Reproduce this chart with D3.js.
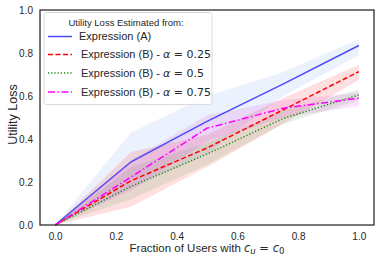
<!DOCTYPE html>
<html>
<head>
<meta charset="utf-8">
<script src="https://cdn.jsdelivr.net/npm/d3@7"></script>
<style>
  body { margin: 0; background: #fff; }
  text { font-family: "Liberation Sans", Arial, sans-serif; fill: #262626; }
</style>
</head>
<body>
<div id="container"></div>
<script>
/* DATA */
const fractions = [0, 0.25, 0.5, 0.75, 1.0];
const meanA   = [0, 0.294, 0.482, 0.655, 0.835];
const meanB25 = [0, 0.206, 0.358, 0.535, 0.713];
const meanB50 = [0, 0.18, 0.33, 0.495, 0.605];
const meanB75 = [0, 0.223, 0.45, 0.543, 0.59];
const lowA   = [0, 0.17, 0.33, 0.6, 0.79];
const highA  = [0, 0.43, 0.6, 0.71, 0.865];
const lowB25 = [0, 0.085, 0.27, 0.47, 0.675];
const highB25= [0, 0.34, 0.42, 0.59, 0.745];
const lowB50 = [0, 0.12, 0.28, 0.47, 0.58];
const highB50= [0, 0.27, 0.38, 0.53, 0.63];
const lowB75 = [0, 0.16, 0.39, 0.5, 0.553];
const highB75= [0, 0.3, 0.51, 0.58, 0.615];
const yTicks = [0.0, 0.2, 0.4, 0.6, 0.8, 1.0];
const xTicks = [0.0, 0.2, 0.4, 0.6, 0.8, 1.0];

/* CONSTANTS */
const width = 380, height = 264;
const margin = { top: 10, right: 6, bottom: 39, left: 40 };

const series = [
  { mean: meanA,   low: lowA,   high: highA,   color: "#4b4bf5", band: "#6495ed", bandOp: 0.13, dash: null, label: "Expression (A)", alpha: null },
  { mean: meanB25, low: lowB25, high: highB25, color: "#ff0000", band: "#ff0000", bandOp: 0.12, dash: "5,2.5", label: "Expression (B) - ", alpha: "0.25" },
  { mean: meanB50, low: lowB50, high: highB50, color: "#1a8a1a", band: "#2e8b2e", bandOp: 0.12, dash: "1.2,2", label: "Expression (B) - ", alpha: "0.5" },
  { mean: meanB75, low: lowB75, high: highB75, color: "#ff00ff", band: "#e040e0", bandOp: 0.15, dash: "7,2.5,1.5,2.5", label: "Expression (B) - ", alpha: "0.75" }
];

/* SCALES */
const xScale = d3.scaleLinear()
  .domain([-0.05, 1.05])
  .range([margin.left, width - margin.right]);

const yScale = d3.scaleLinear()
  .domain([0, 1])
  .range([height - margin.bottom, margin.top]);

const svg = d3.select("#container")
  .append("svg")
  .attr("width", width)
  .attr("height", height);

/* BANDS */
const area = d3.area()
  .x((d, i) => xScale(fractions[i]))
  .y0(d => yScale(d[0]))
  .y1(d => yScale(d[1]));

svg.selectAll("path.band")
  .data(series)
  .join("path")
  .attr("class", "band")
  .attr("d", s => area(s.low.map((v, i) => [v, s.high[i]])))
  .attr("fill", s => s.band)
  .attr("fill-opacity", s => s.bandOp);

/* LINES */
const line = d3.line()
  .x((d, i) => xScale(fractions[i]))
  .y(d => yScale(d));

svg.selectAll("path.line")
  .data(series)
  .join("path")
  .attr("class", "line")
  .attr("d", s => line(s.mean))
  .attr("fill", "none")
  .attr("stroke", s => s.color)
  .attr("stroke-width", 1.5)
  .attr("stroke-dasharray", s => s.dash);

/* AXES */
const xAxis = svg.append("g")
  .attr("transform", `translate(0,${height - margin.bottom})`)
  .call(d3.axisBottom(xScale).tickValues(xTicks).tickSize(0).tickPadding(8).tickFormat(d3.format(".1f")));
const yAxis = svg.append("g")
  .attr("transform", `translate(${margin.left},0)`)
  .call(d3.axisLeft(yScale).tickValues(yTicks).tickSize(0).tickPadding(7).tickFormat(d3.format(".1f")));
[xAxis, yAxis].forEach(g => {
  g.select(".domain").remove();
  g.selectAll("text").attr("font-size", 10).attr("fill", "#333")
    .attr("font-family", "'Liberation Sans', Arial, sans-serif");
});

// frame
svg.append("rect")
  .attr("x", margin.left)
  .attr("y", margin.top)
  .attr("width", width - margin.left - margin.right)
  .attr("height", height - margin.top - margin.bottom)
  .attr("fill", "none")
  .attr("stroke", "#262626")
  .attr("stroke-width", 1.25);

/* LABELS */
svg.append("text")
  .attr("transform", `translate(13,${(margin.top + height - margin.bottom) / 2 - 3}) rotate(-90)`)
  .attr("text-anchor", "middle")
  .attr("dy", "0.35em")
  .attr("font-size", 12.5)
  .text("Utility Loss");

const xl = svg.append("text")
  .attr("x", (margin.left + width - margin.right) / 2)
  .attr("y", 252)
  .attr("text-anchor", "middle")
  .attr("font-size", 11.5);
xl.append("tspan").text("Fraction of Users with ");
xl.append("tspan").attr("font-family", "DejaVu Sans").attr("font-style", "italic").text("c");
xl.append("tspan").attr("font-family", "DejaVu Sans").attr("font-style", "italic").attr("font-size", 8.5).attr("dy", 2).text("u");
xl.append("tspan").attr("font-family", "DejaVu Sans").attr("dy", -2).text(" = ");
xl.append("tspan").attr("font-family", "DejaVu Sans").attr("font-style", "italic").text("c");
xl.append("tspan").attr("font-family", "DejaVu Sans").attr("font-size", 8.5).attr("dy", 2).text("0");

/* LEGEND */
const legend = svg.append("g");
legend.append("rect")
  .attr("x", 44).attr("y", 12.5)
  .attr("width", 168).attr("height", 92)
  .attr("rx", 2.5)
  .attr("fill", "#fff").attr("fill-opacity", 0.85)
  .attr("stroke", "#d0d0d0").attr("stroke-width", 0.8);
legend.append("text")
  .attr("x", 126).attr("y", 22.7)
  .attr("dy", "0.35em")
  .attr("text-anchor", "middle")
  .attr("font-size", 9.5)
  .text("Utility Loss Estimated from:");

const rowY = [36.5, 54.5, 73, 92];
const items = legend.selectAll("g.item")
  .data(series)
  .join("g")
  .attr("class", "item")
  .attr("transform", (s, i) => `translate(0,${rowY[i]})`);
items.append("line")
  .attr("x1", 48).attr("x2", 72)
  .attr("stroke", s => s.color)
  .attr("stroke-width", 1.5)
  .attr("stroke-dasharray", s => s.dash);
const lt = items.append("text")
  .attr("x", s => s.alpha ? 81 : 79).attr("dy", "0.35em")
  .attr("font-size", 11);
lt.append("tspan").text(s => s.label);
lt.filter(s => s.alpha).append("tspan")
  .attr("font-family", "DejaVu Sans").attr("font-style", "italic").text("α");
lt.filter(s => s.alpha).append("tspan")
  .attr("font-family", "DejaVu Sans").text(s => " = " + s.alpha);
</script>
</body>
</html>
